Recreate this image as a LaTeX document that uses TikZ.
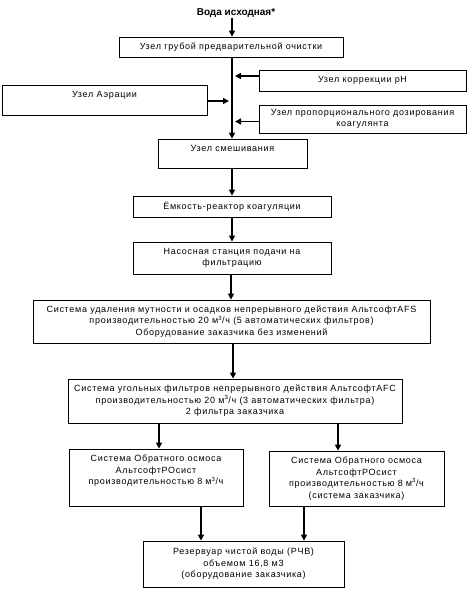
\documentclass[tikz,border=0pt]{standalone}
\usepackage{fontspec}
\setmainfont{Liberation Sans}[LetterSpace=8]
\newfontfamily\titlefont{Liberation Sans}
\usetikzlibrary{arrows.meta}
\begin{document}
\begin{tikzpicture}[x=1pt,y=-1pt,
  box/.style={draw,line width=0.8pt,fill=white,inner sep=0pt,align=center,font=\fontsize{9}{11.5}\selectfont},
  txt/.style={inner sep=0pt,align=center,font=\fontsize{9}{11.5}\selectfont},
  arr/.style={line width=1.8pt,-{Triangle[length=6pt,width=6pt]}},
  bus/.style={line width=2.6pt}]
\useasboundingbox (0,0) rectangle (467,589);
\fill[white] (0,0) rectangle (467,589);
% title
\node[inner sep=0pt,font=\titlefont\bfseries\fontsize{10}{12}\selectfont] (src) at (236,13) {Вода исходная*};
% boxes
\node[box,minimum width=224,minimum height=20] (b1) at (231,47) {Узел грубой предварительной очистки};
\node[box,minimum width=207,minimum height=21] (ph) at (362.5,80.5) {Узел коррекции pH};
\node[box,minimum width=205,minimum height=30] (aer) at (104.5,100) {};
\node[txt] (aert) at (104.5,95) {Узел Аэрации};
\node[box,minimum width=207,minimum height=28] (coag) at (362.5,119) {Узел пропорционального дозирования\\коагулянта};
\node[box,minimum width=149,minimum height=29] (mix) at (232.5,153.5) {};
\node[txt] (mixt) at (232.5,148) {Узел смешивания};
\node[box,minimum width=198,minimum height=21] (reac) at (232,206.5) {Ёмкость-реактор коагуляции};
\node[box,minimum width=198,minimum height=32] (pump) at (232,258) {Насосная станция подачи на\\фильтрацию};
\node[box,minimum width=397,minimum height=43] (afs) at (231.5,321.5) {Система удаления мутности и осадков непрерывного действия АльтсофтAFS\\производительностью 20 м\textsuperscript{3}/ч (5 автоматических фильтров)\\Оборудование заказчика без изменений};
\node[box,minimum width=334,minimum height=44] (afc) at (235,401) {Система угольных фильтров непрерывного действия АльтсофтAFC\\производительностью 20 м\textsuperscript{3}/ч (3 автоматических фильтра)\\2 фильтра заказчика};
\node[box,minimum width=174,minimum height=57] (ro1) at (156,477.5) {};
\node[txt] (ro1t) at (156,471) {Система Обратного осмоса\\АльтсофтРОсист\\производительностью 8 м\textsuperscript{3}/ч};
\node[box,minimum width=175,minimum height=55] (ro2) at (356.5,478.5) {Система Обратного осмоса\\АльтсофтРОсист\\производительностью 8 м\textsuperscript{3}/ч\\(система заказчика)};
\node[box,minimum width=201,minimum height=46] (rchv) at (243.5,564) {Резервуар чистой воды (РЧВ)\\объемом 16,8 м3\\(оборудование заказчика)};
% bus coordinates
\coordinate (bphA) at (235,76);
\coordinate (baerA) at (229,101);
\coordinate (bcoA) at (235,121.5);
\coordinate (busend) at (232,132);
% connectors
\draw[arr] (src.south -| 232,0) -- (b1.north -| 232,0);
\draw[bus] (b1.south -| 232,0) -- (busend);
\draw[arr] (busend) -- (mix.north -| 232,0);
\draw[arr] (ph.west |- bphA) -- (bphA);
\draw[arr] (aer.east |- baerA) -- (baerA);
\draw[arr] (coag.west |- bcoA) -- (bcoA);
\draw[arr] (mix.south -| 232,0) -- (reac.north -| 232,0);
\draw[arr] (reac.south -| 232,0) -- (pump.north -| 232,0);
\draw[arr] (pump.south -| 231,0) -- (afs.north -| 231,0);
\draw[arr] (afs.south -| 233,0) -- (afc.north -| 233,0);
\draw[arr] (afc.south -| 159,0) -- (ro1.north -| 159,0);
\draw[arr] (afc.south -| 338,0) -- (ro2.north -| 338,0);
\draw[arr] (ro1.south -| 201,0) -- (rchv.north -| 201,0);
\draw[arr] (ro2.south -| 304,0) -- (rchv.north -| 304,0);
\end{tikzpicture}
\end{document}
